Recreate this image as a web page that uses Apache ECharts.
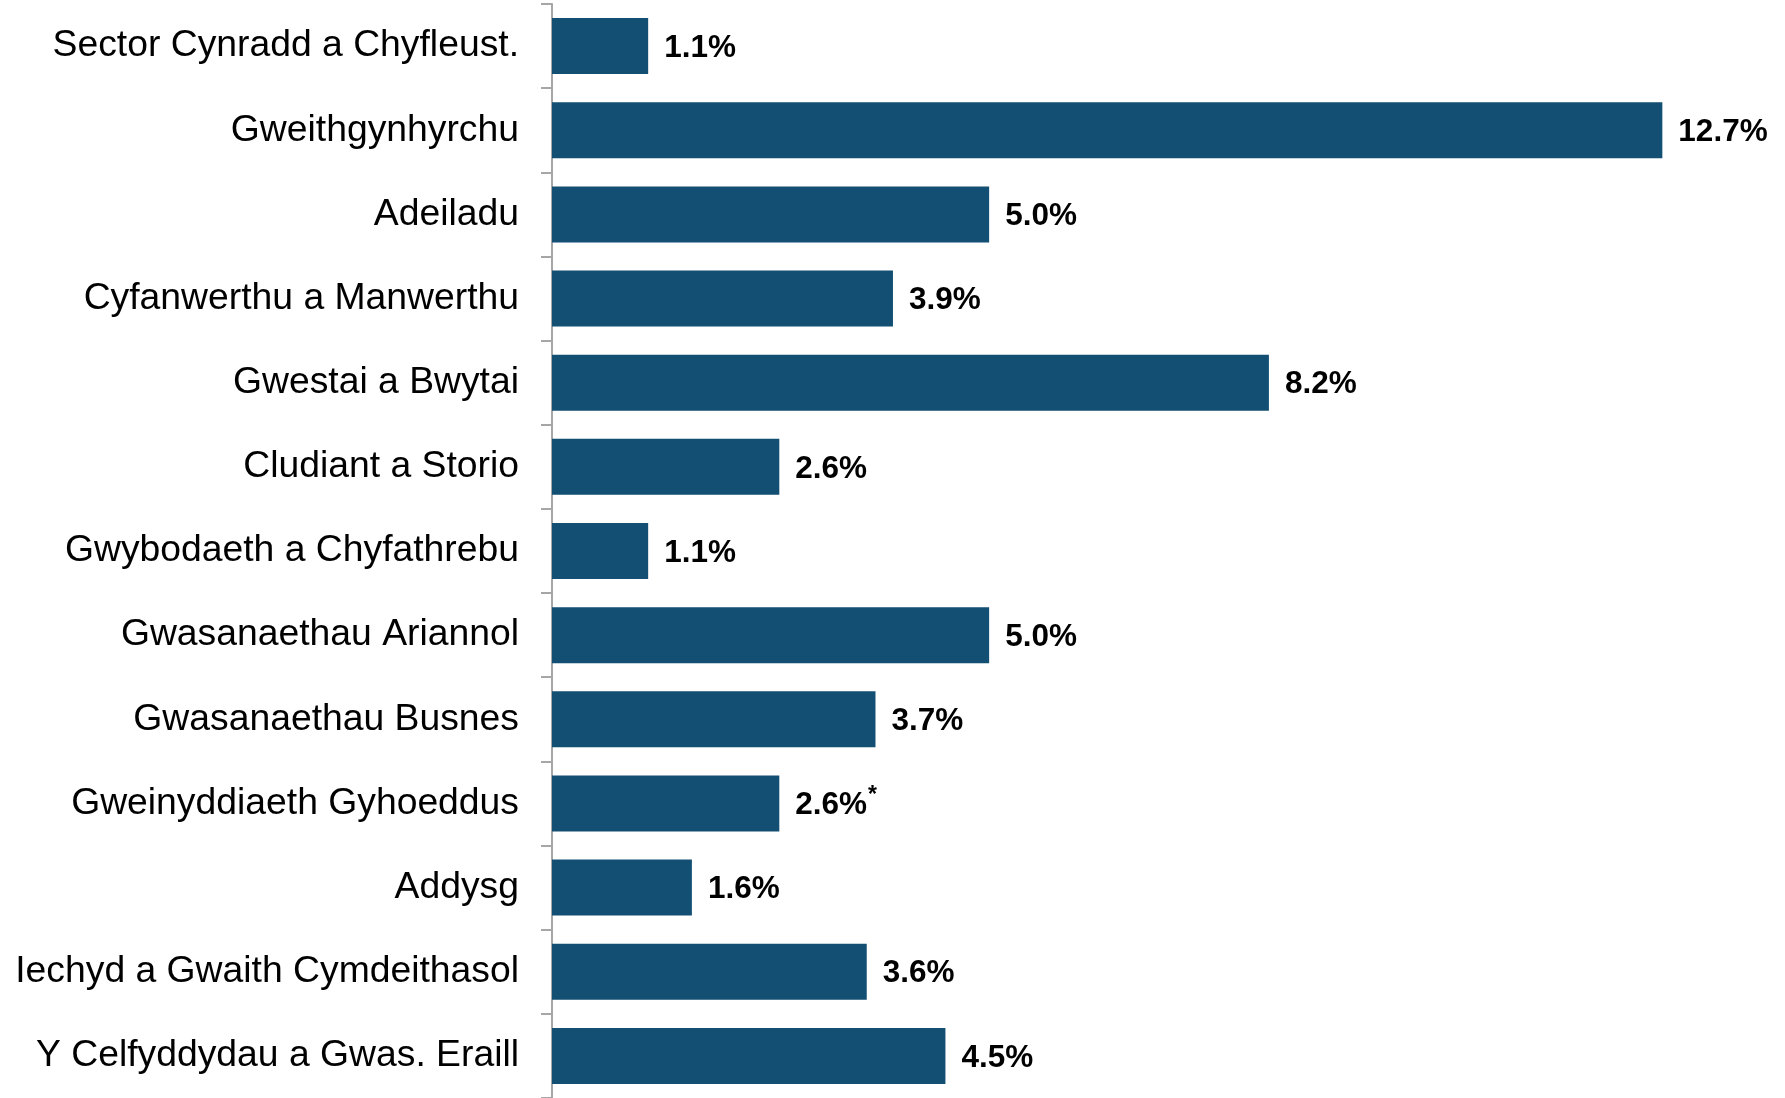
<!DOCTYPE html>
<html>
<head>
<meta charset="utf-8">
<script src="https://cdn.jsdelivr.net/npm/echarts@6/dist/echarts.min.js"></script>
<style>
html,body{margin:0;padding:0;background:#fff;}
#chart{width:1785px;height:1098px;}
</style>
</head>
<body>
<div id="chart"></div>
<script>
const categories = [
  "Sector Cynradd a Chyfleust.",
  "Gweithgynhyrchu",
  "Adeiladu",
  "Cyfanwerthu a Manwerthu",
  "Gwestai a Bwytai",
  "Cludiant a Storio",
  "Gwybodaeth a Chyfathrebu",
  "Gwasanaethau Ariannol",
  "Gwasanaethau Busnes",
  "Gweinyddiaeth Gyhoeddus",
  "Addysg",
  "Iechyd a Gwaith Cymdeithasol",
  "Y Celfyddydau a Gwas. Eraill"
];
const values = [1.1, 12.7, 5.0, 3.9, 8.2, 2.6, 1.1, 5.0, 3.7, 2.6, 1.6, 3.6, 4.5];
const footnoteFlags = [false, false, false, false, false, false, false, false, false, true, false, false, false];

const chart = echarts.init(document.getElementById('chart'));
chart.setOption({
  animation: false,
  backgroundColor: '#ffffff',
  grid: { left: 552, right: 9, top: 4, height: 1095.6, containLabel: false },
  xAxis: {
    type: 'value', min: 0, max: 14, show: false
  },
  yAxis: {
    type: 'category',
    data: categories,
    inverse: true,
    axisLine: { show: true, lineStyle: { color: '#a6a6a6', width: 2 } },
    axisTick: { show: true, length: 11, lineStyle: { color: '#a6a6a6', width: 2 } },
    axisLabel: {
      margin: 33,
      color: '#000000',
      fontFamily: 'Liberation Sans, Arial, sans-serif',
      fontSize: 37.3,
      padding: [5, 0, 0, 0]
    },
    splitLine: { show: false }
  },
  series: [{
    type: 'bar',
    data: values,
    barWidth: 56,
    itemStyle: { color: '#124f73' },
    label: {
      show: true,
      position: 'right',
      distance: 16,
      formatter: function (p) {
        const txt = p.value.toFixed(1) + '%';
        return footnoteFlags[p.dataIndex] ? '{v|' + txt + '}{s|*}' : '{v|' + txt + '}';
      },
      rich: {
        v: { fontFamily: 'Liberation Sans, Arial, sans-serif', fontSize: 31.5, fontWeight: 'bold', color: '#000', padding: [4, 0, 0, 0] },
        s: { fontFamily: 'Liberation Sans, Arial, sans-serif', fontSize: 23, fontWeight: 'bold', color: '#000', verticalAlign: 'top', padding: [0, 0, 16, 1] }
      }
    }
  }]
});
</script>
</body>
</html>
